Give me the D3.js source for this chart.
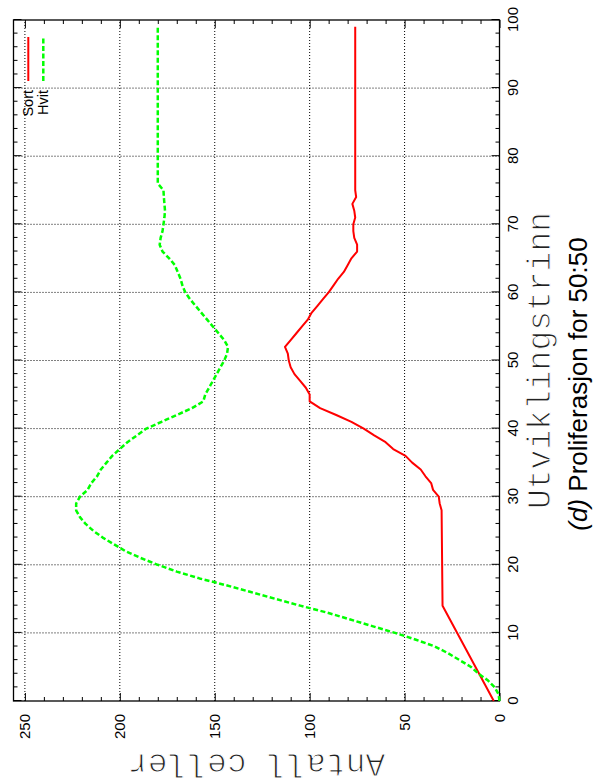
<!DOCTYPE html>
<html>
<head>
<meta charset="utf-8">
<script src="https://cdn.jsdelivr.net/npm/d3@7"></script>
<style>
  body { margin: 0; background: #fff; }
  svg { display: block; }
</style>
</head>
<body>
<svg id="chart" width="594" height="784"></svg>
<script>
// Cell counts per development step for the two populations
const sortSteps = [0, 14, 28, 29, 30, 31, 32, 33, 34, 35, 36, 37, 38, 39, 40, 41, 42, 43, 44, 45, 46, 47, 48, 49, 50, 51, 52, 53, 54, 55, 56, 57, 58, 59, 60, 61, 62, 63, 64, 65, 66, 67, 68, 69, 70, 71, 72, 73, 74, 75, 76, 99];
const sortCells = [3, 30, 30.5, 31.5, 32, 35, 36, 39, 41.5, 46, 49.5, 56, 60, 66, 71.5, 78, 86, 94.5, 100, 100, 102, 105, 108, 110, 111, 111.5, 113, 110, 107, 104, 101, 99, 96, 93, 90, 87.5, 85, 82, 80, 78, 75, 75, 76.5, 77, 77, 76, 76.5, 77.5, 75.5, 76, 76, 76];

const hvitSteps = [0, 1, 2, 3, 4, 5, 6, 7, 8, 9, 10, 11, 12, 13, 14, 15, 16, 17, 18, 19, 20, 21, 22, 23, 24, 25, 26, 27, 28, 29, 30, 31, 32, 33, 34, 35, 36, 37, 38, 39, 40, 41, 42, 43, 44, 45, 46, 47, 48, 49, 50, 51, 52, 53, 54, 55, 56, 57, 58, 59, 60, 61, 62, 63, 64, 65, 66, 67, 68, 69, 70, 71, 72, 73, 74, 75, 76, 99];
const hvitCells = [0, 0.5, 2.5, 6, 11, 15, 21, 27, 34, 44, 55, 67, 79, 91, 105, 118, 131, 144, 158, 170, 180, 189, 197, 203, 209, 214, 218, 221, 223, 223, 221, 217, 215, 212, 210, 207, 204, 200, 196, 191, 186, 178, 170, 162, 156, 155, 153, 151, 149, 147, 145, 143.5, 143, 145, 148, 151, 154, 157, 160, 163, 165.5, 167, 168, 169.5, 171, 174, 177.5, 179, 178.5, 177.5, 177, 176.5, 176.2, 176.5, 176.8, 177, 180, 180];

const stepTicks = [0, 10, 20, 30, 40, 50, 60, 70, 80, 90, 100];
const stepMinor = d3.range(0, 101, 2).filter(v => v % 10 !== 0);
const cellTicks = [0, 50, 100, 150, 200, 250];
const cellMinor = d3.range(0, 256, 10).filter(v => v % 50 !== 0);

const seriesNames = ["Sort", "Hvit"];
const seriesColors = ["#ff0000", "#00ff00"];

const xLabel = "Utviklingstrinn";
const yLabel = "Antall celler";
const caption = ["(d)", " Proliferasjon for 50:50"];

const svg = d3.select("#chart");
svg.append("rect").attr("width", 594).attr("height", 784).attr("fill", "#fff");

// The plot is laid out in landscape and turned a quarter turn counter-clockwise
const page = svg.append("g").attr("transform", "translate(0,784) rotate(-90)");

const x = d3.scaleLinear().domain([0, 100]).range([83, 764]);
const y = d3.scaleLinear().domain([0, 256]).range([499.5, 13.5]);
const [x0, x1] = x.range();
const [yb, yt] = y.range();

const tickFont = "'Liberation Sans', Arial, Helvetica, sans-serif";
const monoFont = "'Liberation Mono', 'Courier New', monospace";

// dotted grid
const grid = page.append("g").attr("stroke", "#000").attr("stroke-width", 1)
  .attr("stroke-dasharray", "1,2").attr("fill", "none");
grid.selectAll("line.gx").data(stepTicks.filter(v => v > 0 && v < 100)).join("line")
  .attr("x1", d => x(d)).attr("x2", d => x(d)).attr("y1", yb).attr("y2", yt);
grid.selectAll("line.gy").data(cellTicks.filter(v => v > 0)).join("line")
  .attr("y1", d => y(d)).attr("y2", d => y(d)).attr("x1", x0).attr("x2", x1);

// axes with inward ticks, mirrored on the opposite sides
function styleAxis(g) {
  g.select(".domain").remove();
  g.selectAll(".tick line").attr("stroke", "#000").attr("stroke-width", 1);
  g.selectAll("text").attr("font-family", tickFont).attr("font-size", 15).attr("fill", "#000");
}
page.append("g").attr("transform", `translate(0,${yb})`)
  .call(d3.axisBottom(x).tickValues(stepTicks).tickSize(-8).tickPadding(8).tickFormat(d3.format("d")))
  .call(styleAxis);
page.append("g").attr("transform", `translate(0,${yb})`)
  .call(d3.axisBottom(x).tickValues(stepMinor).tickSize(-4).tickFormat(""))
  .call(styleAxis);
page.append("g").attr("transform", `translate(0,${yt})`)
  .call(d3.axisTop(x).tickValues(stepTicks).tickSize(-8).tickFormat(""))
  .call(styleAxis);
page.append("g").attr("transform", `translate(0,${yt})`)
  .call(d3.axisTop(x).tickValues(stepMinor).tickSize(-4).tickFormat(""))
  .call(styleAxis);

page.append("g").attr("transform", `translate(${x0},0)`)
  .call(d3.axisLeft(y).tickValues(cellTicks).tickSize(-8).tickPadding(13).tickFormat(d3.format("d")))
  .call(styleAxis);
page.append("g").attr("transform", `translate(${x0},0)`)
  .call(d3.axisLeft(y).tickValues(cellMinor).tickSize(-4).tickFormat(""))
  .call(styleAxis);
page.append("g").attr("transform", `translate(${x1},0)`)
  .call(d3.axisRight(y).tickValues(cellTicks).tickSize(-8).tickFormat(""))
  .call(styleAxis);
page.append("g").attr("transform", `translate(${x1},0)`)
  .call(d3.axisRight(y).tickValues(cellMinor).tickSize(-4).tickFormat(""))
  .call(styleAxis);

// frame
page.append("rect").attr("x", x0).attr("y", yt).attr("width", x1 - x0).attr("height", yb - yt)
  .attr("fill", "none").attr("stroke", "#000").attr("stroke-width", 1.3);

// data lines
const line = d3.line().x(d => x(d[0])).y(d => y(d[1]));
const series = [
  { steps: sortSteps, cells: sortCells, dash: null, width: 2 },
  { steps: hvitSteps, cells: hvitCells, dash: "5,2.5", width: 2.5 }
];
series.forEach((s, i) => {
  page.append("path")
    .datum(s.steps.map((st, j) => [st, s.cells[j]]))
    .attr("d", line)
    .attr("fill", "none")
    .attr("stroke", seriesColors[i])
    .attr("stroke-width", s.width)
    .attr("stroke-dasharray", s.dash)
    .attr("stroke-linejoin", "round");
});

// legend (top right of the landscape plot)
const legend = page.append("g");
seriesNames.forEach((name, i) => {
  const row = 28.3 + i * 15;
  legend.append("line")
    .attr("x1", 703).attr("x2", 747).attr("y1", row).attr("y2", row)
    .attr("stroke", seriesColors[i]).attr("stroke-width", series[i].width)
    .attr("stroke-dasharray", series[i].dash);
  legend.append("text")
    .attr("x", 694).attr("y", row + 5)
    .attr("text-anchor", "end")
    .attr("font-family", tickFont).attr("font-size", 14.5)
    .text(name);
});

// axis titles in a light typewriter style (white outline thins the strokes)
function thinMono(t) {
  t.attr("font-family", monoFont).attr("font-size", 33)
    .attr("fill", "#222").attr("stroke", "#fff").attr("stroke-width", 1.1)
    .attr("paint-order", "fill");
}
page.append("text")
  .attr("x", (x0 + x1) / 2).attr("y", 550)
  .attr("text-anchor", "middle")
  .call(thinMono)
  .text(xLabel);
page.append("text")
  .attr("transform", `translate(30,${(yb + yt) / 2}) rotate(-90)`)
  .attr("text-anchor", "middle")
  .call(thinMono)
  .text(yLabel);

// caption
const cap = page.append("text")
  .attr("x", 400).attr("y", 587)
  .attr("text-anchor", "middle")
  .attr("font-family", tickFont).attr("font-size", 26);
cap.append("tspan").attr("font-style", "italic").text(caption[0]);
cap.append("tspan").text(caption[1]);
</script>
</body>
</html>
